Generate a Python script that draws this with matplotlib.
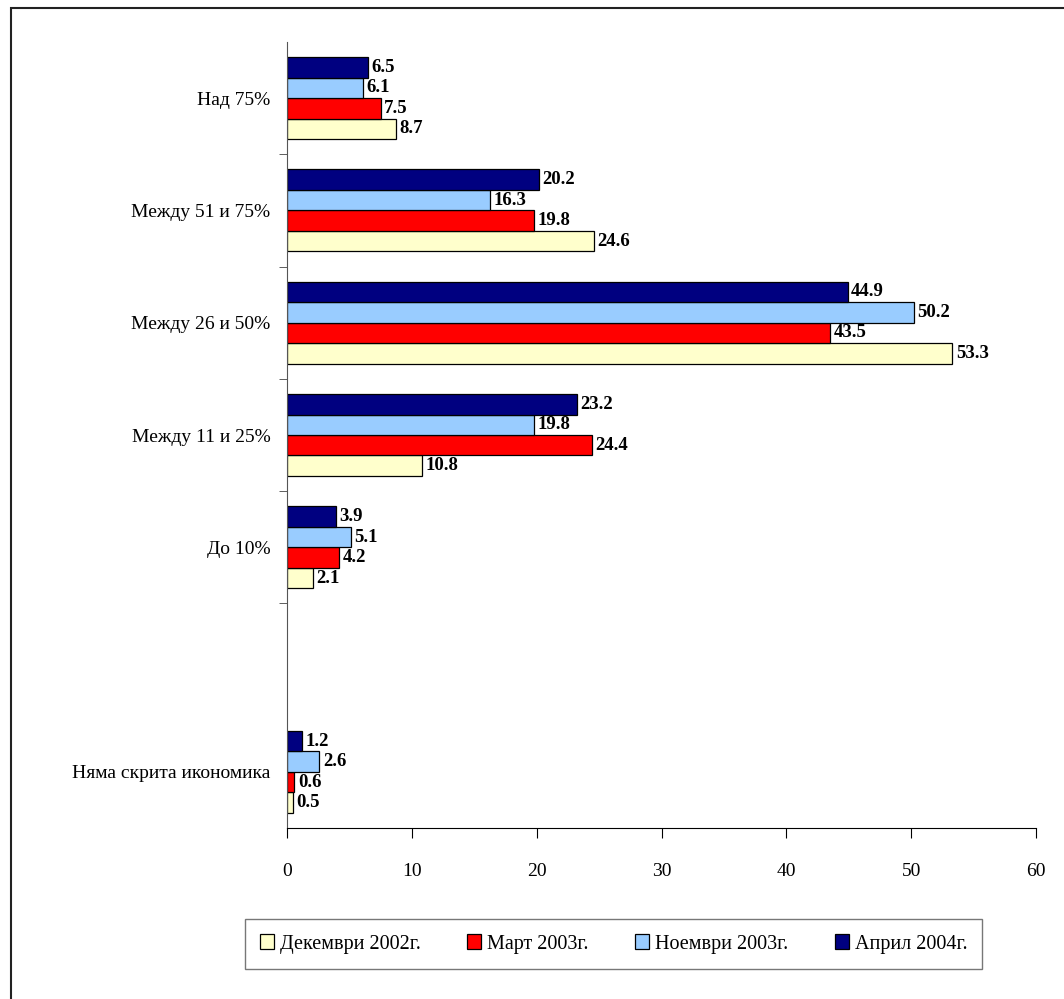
import numpy as np
import matplotlib.pyplot as plt
from matplotlib.patches import Rectangle

# categories from top to bottom (the empty slot is a blank row in the original)
cats = ['Над 75%', 'Между 51 и 75%', 'Между 26 и 50%', 'Между 11 и 25%',
        'До 10%', '', 'Няма скрита икономика']

series = ['Декември 2002г.', 'Март 2003г.', 'Ноември 2003г.', 'Април 2004г.']
dec02 = [8.7, 24.6, 53.3, 10.8, 2.1, None, 0.5]
mar03 = [7.5, 19.8, 43.5, 24.4, 4.2, None, 0.6]
nov03 = [6.1, 16.3, 50.2, 19.8, 5.1, None, 2.6]
apr04 = [6.5, 20.2, 44.9, 23.2, 3.9, None, 1.2]

colors = ['#FFFFCC', '#FF0000', '#99CCFF', '#000080']

plt.rcParams['font.family'] = ['Liberation Serif', 'DejaVu Serif']

fig = plt.figure(figsize=(10.64, 9.99), dpi=100)
ax = fig.add_axes([287 / 1064, 1 - 828 / 999, (1036 - 287) / 1064, (828 - 42) / 999])

n = len(cats)
ypos = np.arange(n)[::-1]  # top category at highest y
h = 0.1825
data = [dec02, mar03, nov03, apr04]

for k, (vals, col, lab) in enumerate(zip(data, colors, series)):
    off = (k - 1.5) * h
    yy = [y + off for y, v in zip(ypos, vals) if v is not None]
    vv = [v for v in vals if v is not None]
    bars = ax.barh(yy, vv, height=h, color=col, edgecolor='black',
                   linewidth=0.9, label=lab)
    for b, v in zip(bars, vv):
        ax.annotate('%.1f' % v, (b.get_width(), b.get_y() + h / 2),
                    xytext=(2.5, 0), textcoords='offset points',
                    va='center', ha='left', fontsize=13.5, fontweight='bold')

ax.set_xlim(0, 60)
ax.set_ylim(-0.5, n - 0.5)
ax.set_xticks(range(0, 61, 10))
ax.set_yticks(ypos)
ax.set_yticklabels(cats, fontsize=14)
ax.set_yticks([1.5, 2.5, 3.5, 4.5, 5.5], minor=True)
ax.tick_params(axis='y', which='major', length=0, pad=12)
ax.tick_params(axis='y', which='minor', length=6, direction='out', color='#444444')
ax.tick_params(axis='x', length=7, direction='out', pad=18, labelsize=14, color='black')

for s in ['top', 'right']:
    ax.spines[s].set_visible(False)
ax.spines['left'].set_color('#555555')
ax.spines['bottom'].set_color('black')

leg = ax.legend(loc='center', bbox_to_anchor=((244 + 983) / 2 / 1064, 1 - 944 / 999),
                bbox_transform=fig.transFigure, ncol=4, fontsize=14.5,
                frameon=True, fancybox=False, edgecolor='#555555',
                handlelength=0.7, handleheight=0.7, handletextpad=0.3,
                columnspacing=2.3, borderpad=0.75, borderaxespad=0)
leg.get_frame().set_linewidth(1.0)

# outer chart frame (cut off on the right and bottom)
fig.patches.append(Rectangle((11 / 1064, -0.05), 1.1, 1.05 - 8 / 999,
                             transform=fig.transFigure, fill=False,
                             edgecolor='#222222', linewidth=1.5))

fig.savefig('out.png', dpi=100)
